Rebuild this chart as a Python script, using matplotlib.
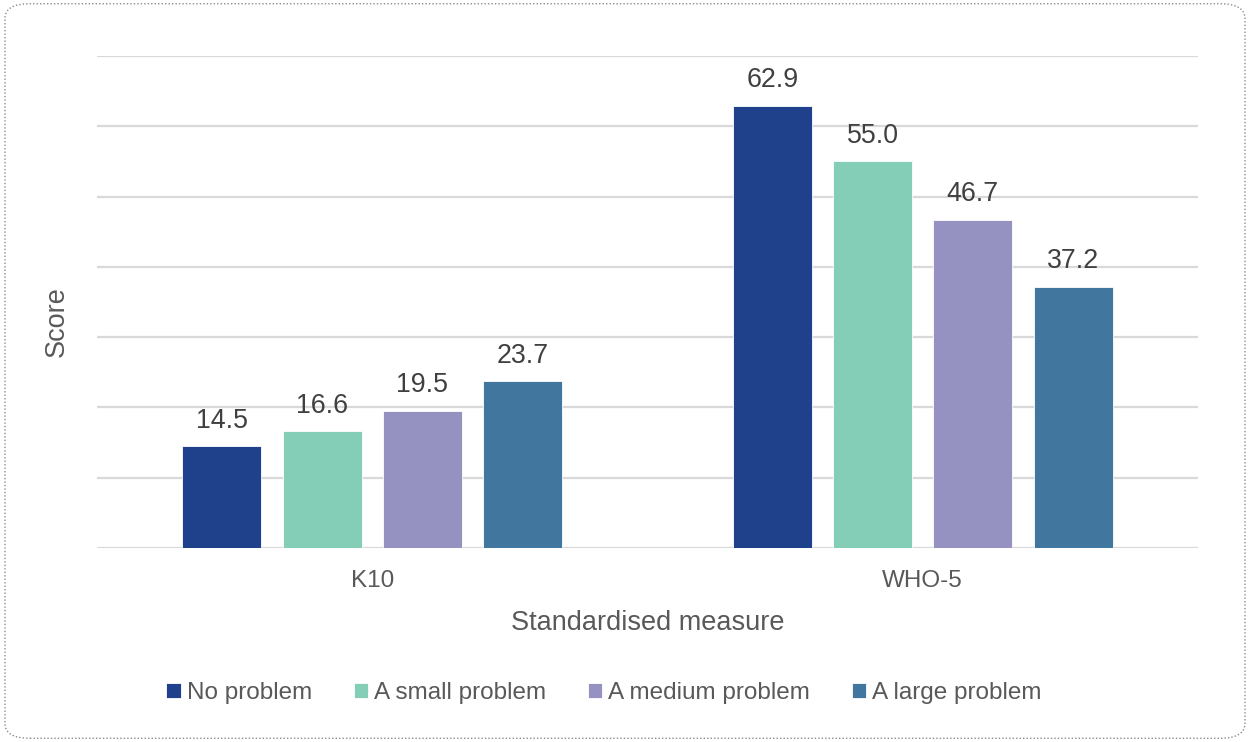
import matplotlib
matplotlib.use("Agg")
import matplotlib.pyplot as plt
from matplotlib.patches import FancyBboxPatch
import numpy as np

plt.rcParams['font.family'] = ['Liberation Sans', 'DejaVu Sans']

categories = ["K10", "WHO-5"]
series_names = ["No problem", "A small problem", "A medium problem", "A large problem"]
no_problem = [14.5, 62.9]
small_problem = [16.6, 55.0]
medium_problem = [19.5, 46.7]
large_problem = [23.7, 37.2]
series_values = [no_problem, small_problem, medium_problem, large_problem]
colors = ["#1F418B", "#84CDB7", "#9591C0", "#41779E"]

fig = plt.figure(figsize=(12.5, 7.42), dpi=100)
ax = fig.add_axes([0.0776, 0.2615, 0.8808, 0.663])

x = np.arange(len(categories))
step = 0.182
width = 0.1435
for i, (name, vals, c) in enumerate(zip(series_names, series_values, colors)):
    pos = x + (i - 1.5) * step
    bars = ax.bar(pos, vals, width=width, color=c, label=name, zorder=3,
                  edgecolor="white", linewidth=0.6)
    for b, v in zip(bars, vals):
        ax.annotate(f"{v:.1f}", (b.get_x() + b.get_width() / 2, v),
                    xytext=(0, 9), textcoords="offset points",
                    ha="center", va="bottom", fontsize=19.3, color="#404040")

ax.set_xlim(-0.5, 1.5)
ax.set_ylim(0, 70)
ax.set_yticks(np.arange(0, 71, 10))
ax.yaxis.grid(True, color="#D9D9D9", linewidth=1.6, zorder=0)
ax.set_yticklabels([])
ax.tick_params(axis="y", length=0)
ax.tick_params(axis="x", length=0, pad=16, labelsize=17.5, labelcolor="#595959")
ax.set_xticks(x)
ax.set_xticklabels(categories)
for s in ax.spines.values():
    s.set_visible(False)
ax.set_xlabel("Standardised measure", fontsize=19.5, color="#595959", labelpad=13)
ax.set_ylabel("Score", fontsize=19.5, color="#595959")
ax.yaxis.set_label_coords(-0.0245, 0.46)

leg = fig.legend(loc="center", bbox_to_anchor=(604 / 1250, 1 - 693 / 742), ncol=4,
                 frameon=False, fontsize=17.5, handlelength=0.6, handleheight=0.6,
                 handletextpad=0.25, columnspacing=1.7)
for t in leg.get_texts():
    t.set_color("#595959")

border = FancyBboxPatch((0.004, 0.005), 0.992, 0.99,
                        boxstyle="round,pad=0,rounding_size=0.02",
                        transform=fig.transFigure, fill=False,
                        edgecolor="#8C8C8C", linestyle=(0, (1, 1.5)), linewidth=1.0)
fig.patches.append(border)

fig.savefig("out.png", dpi=100)
